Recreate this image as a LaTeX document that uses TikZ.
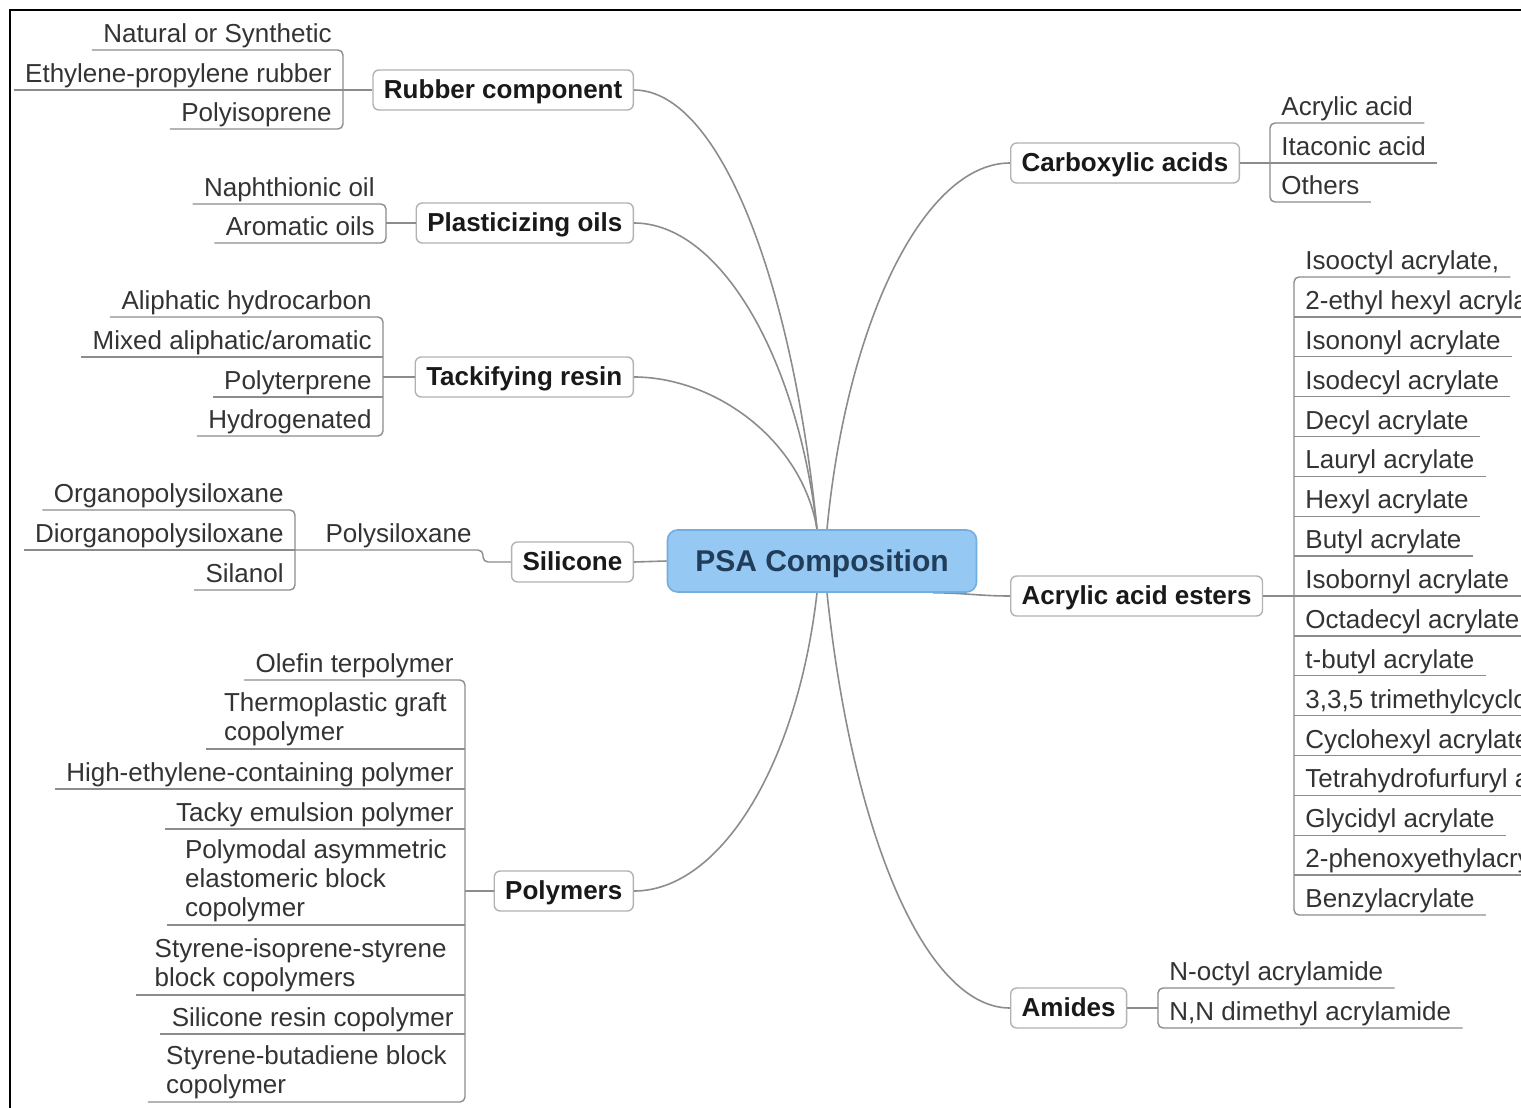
\documentclass[tikz,border=0pt]{standalone}
\usepackage{fontspec}
\setmainfont{Liberation Sans}
\usepackage{xcolor}
\usetikzlibrary{backgrounds}
\definecolor{rootfill}{HTML}{95C8F2}
\definecolor{rootdraw}{HTML}{74AEE0}
\definecolor{roottext}{HTML}{213D5A}
\definecolor{linegray}{HTML}{8C8C8C}
\definecolor{boxgray}{HTML}{B2B2B2}
\tikzset{
    root/.style = {rectangle, rounded corners=5pt, fill=rootfill, draw=rootdraw, line width=0.8pt, text=roottext, font=\fontsize{15}{18}\selectfont\bfseries, minimum width=154.5pt, minimum height=31pt, text height=11pt, text depth=1pt},
    topic/.style = {rectangle, rounded corners=3pt, fill=white, draw=boxgray, line width=0.7pt, text=black!90, font=\fontsize{13}{15}\selectfont\bfseries, minimum height=20pt, inner xsep=5.5pt, text height=9.5pt, text depth=1.2pt},
    leaf/.style = {font=\fontsize{13}{14.5}\selectfont, text=black!80, inner xsep=5.5pt, inner ysep=1.5pt, align=left},
    lleaf/.style = {leaf, text depth=2pt, anchor=south east},
    rleaf/.style = {leaf, text depth=2pt, anchor=south west},
    lleafm/.style = {leaf, anchor=south east, inner xsep=9pt},
    uline/.style = {draw=linegray, line width=0.7pt},
    bracket/.style = {uline, rounded corners=2.5pt},
    branch/.style = {draw=linegray, line width=0.8pt}
}

\begin{document}
\begin{tikzpicture}[x=0.5pt, y=-0.5pt]
    \useasboundingbox (0,0) rectangle (1521,1108);
    \clip (0,0) rectangle (1521,1108);
    \draw[line width=1.2pt] (1521,10) -- (10,10) -- (10,1108);

    \node[root] (psa) at (822,561) {PSA Composition};

    \node[topic, anchor=east] (rub) at (634,90) {Rubber component};
    \node[topic, anchor=east] (pla) at (634,223) {Plasticizing oils};
    \node[topic, anchor=east] (tac) at (634,377) {Tackifying resin};
    \node[topic, anchor=east] (sil) at (634,562) {Silicone};
    \node[topic, anchor=east] (pol) at (634,891) {Polymers};
    \node[topic, anchor=west] (car) at (1010,163) {Carboxylic acids};
    \node[topic, anchor=west] (acr) at (1010,596) {Acrylic acid esters};
    \node[topic, anchor=west] (ami) at (1010,1008) {Amides};

    \node[lleaf] (rub1) at (343,50) {Natural or Synthetic};
    \node[lleaf] (rub2) at (343,90) {Ethylene-propylene rubber};
    \node[lleaf] (rub3) at (343,129) {Polyisoprene};

    \node[lleaf] (pla1) at (386,204) {Naphthionic oil};
    \node[lleaf] (pla2) at (386,243) {Aromatic oils};

    \node[lleaf] (tac1) at (383,317) {Aliphatic hydrocarbon};
    \node[lleaf] (tac2) at (383,357) {Mixed aliphatic/aromatic};
    \node[lleaf] (tac3) at (383,397) {Polyterprene};
    \node[lleaf] (tac4) at (383,436) {Hydrogenated};

    \node[lleaf] (psx) at (483,550) {Polysiloxane};
    \node[lleaf] (sil1) at (295,510) {Organopolysiloxane};
    \node[lleaf] (sil2) at (295,550) {Diorganopolysiloxane};
    \node[lleaf] (sil3) at (295,590) {Silanol};

    \node[lleaf] (pol1) at (465,680) {Olefin terpolymer};
    \node[lleafm] (pol2) at (465,749) {Thermoplastic graft\\copolymer};
    \node[lleaf] (pol3) at (465,789) {High-ethylene-containing polymer};
    \node[lleaf] (pol4) at (465,829) {Tacky emulsion polymer};
    \node[lleafm] (pol5) at (465,925) {Polymodal asymmetric\\elastomeric block\\copolymer};
    \node[lleafm] (pol6) at (465,995) {Styrene-isoprene-styrene\\block copolymers};
    \node[lleaf] (pol7) at (465,1034) {Silicone resin copolymer};
    \node[lleafm] (pol8) at (465,1102) {Styrene-butadiene block\\copolymer};

    \node[rleaf] (car1) at (1270,123) {Acrylic acid};
    \node[rleaf] (car2) at (1270,163) {Itaconic acid};
    \node[rleaf] (car3) at (1270,202) {Others};

    \foreach \lbl [count=\i] in {{Isooctyl acrylate,}, 2-ethyl hexyl acrylate, Isononyl acrylate,
        Isodecyl acrylate, Decyl acrylate, Lauryl acrylate, Hexyl acrylate, Butyl acrylate,
        Isobornyl acrylate, Octadecyl acrylate, t-butyl acrylate, {3,3,5 trimethylcyclohexyl acrylate},
        Cyclohexyl acrylate, Tetrahydrofurfuryl acrylate, Glycidyl acrylate, 2-phenoxyethylacrylate,
        Benzylacrylate}
        \node[rleaf] (acr\i) at (1294,{277+39.875*(\i-1)}) {\lbl};

    \node[rleaf] (ami1) at (1158,988) {N-octyl acrylamide};
    \node[rleaf] (ami2) at (1158,1028) {N,N dimethyl acrylamide};

    \draw[bracket] (rub1.south west) -- (rub1.south east) -- (rub3.south east) -- (rub3.south west);
    \draw[uline] (rub2.south west) -- (rub2.south east);
    \draw[uline] (rub.west) -- (rub.west -| rub1.south east);

    \draw[bracket] (pla1.south west) -- (pla1.south east) -- (pla2.south east) -- (pla2.south west);
    \draw[uline] (pla.west) -- (pla.west -| pla1.south east);

    \draw[bracket] (tac1.south west) -- (tac1.south east) -- (tac4.south east) -- (tac4.south west);
    \draw[uline] (tac2.south west) -- (tac2.south east);
    \draw[uline] (tac3.south west) -- (tac3.south east);
    \draw[uline] (tac.west) -- (tac.west -| tac1.south east);

    \draw[bracket] (sil1.south west) -- (sil1.south east) -- (sil3.south east) -- (sil3.south west);
    \draw[uline] (sil2.south west) -- (sil2.south east);
    \draw[bracket] (sil.west) -| (psx.south east) -- (sil2.south east);

    \draw[bracket] (pol1.south west) -- (pol1.south east) -- (pol8.south east) -- (pol8.south west);
    \foreach \i in {2,...,7}
        \draw[uline] (pol\i.south west) -- (pol\i.south east);
    \draw[uline] (pol.west) -- (pol.west -| pol1.south east);

    \draw[bracket] (car1.south east) -- (car1.south west) -- (car3.south west) -- (car3.south east);
    \draw[uline] (car2.south west) -- (car2.south east);
    \draw[uline] (car.east) -- (car.east -| car1.south west);

    \draw[bracket] (acr1.south east) -- (acr1.south west) -- (acr17.south west) -- (acr17.south east);
    \foreach \i in {2,...,16}
        \draw[uline] (acr\i.south west) -- (acr\i.south east);
    \draw[uline] (acr.east) -- (acr.east -| acr1.south west);

    \draw[bracket] (ami1.south east) -- (ami1.south west) -- (ami2.south west) -- (ami2.south east);
    \draw[uline] (ami.east) -- (ami.east -| ami1.south west);

    \begin{scope}[on background layer]
        \draw[branch] (rub.east) .. controls +(85,0) and +(-25,-250) .. ([xshift=-2.5pt]psa.north);
        \draw[branch] (pla.east) .. controls +(85,0) and +(-20,-175) .. ([xshift=-2.5pt]psa.north);
        \draw[branch] (tac.east) .. controls +(80,0) and +(-15,-90) .. ([xshift=-2.5pt]psa.north);
        \draw[branch] (sil.east) -- (psa.west);
        \draw[branch] (pol.east) .. controls +(85,0) and +(-20,175) .. ([xshift=-2.5pt]psa.south);
        \draw[branch] ([xshift=2.5pt]psa.north) .. controls +(20,-210) and +(-85,0) .. (car.west);
        \draw[branch] (psa.-16) to[out=0, in=180] (acr.west);
        \draw[branch] ([xshift=2.5pt]psa.south) .. controls +(25,240) and +(-85,0) .. (ami.west);
    \end{scope}
\end{tikzpicture}
\end{document}
